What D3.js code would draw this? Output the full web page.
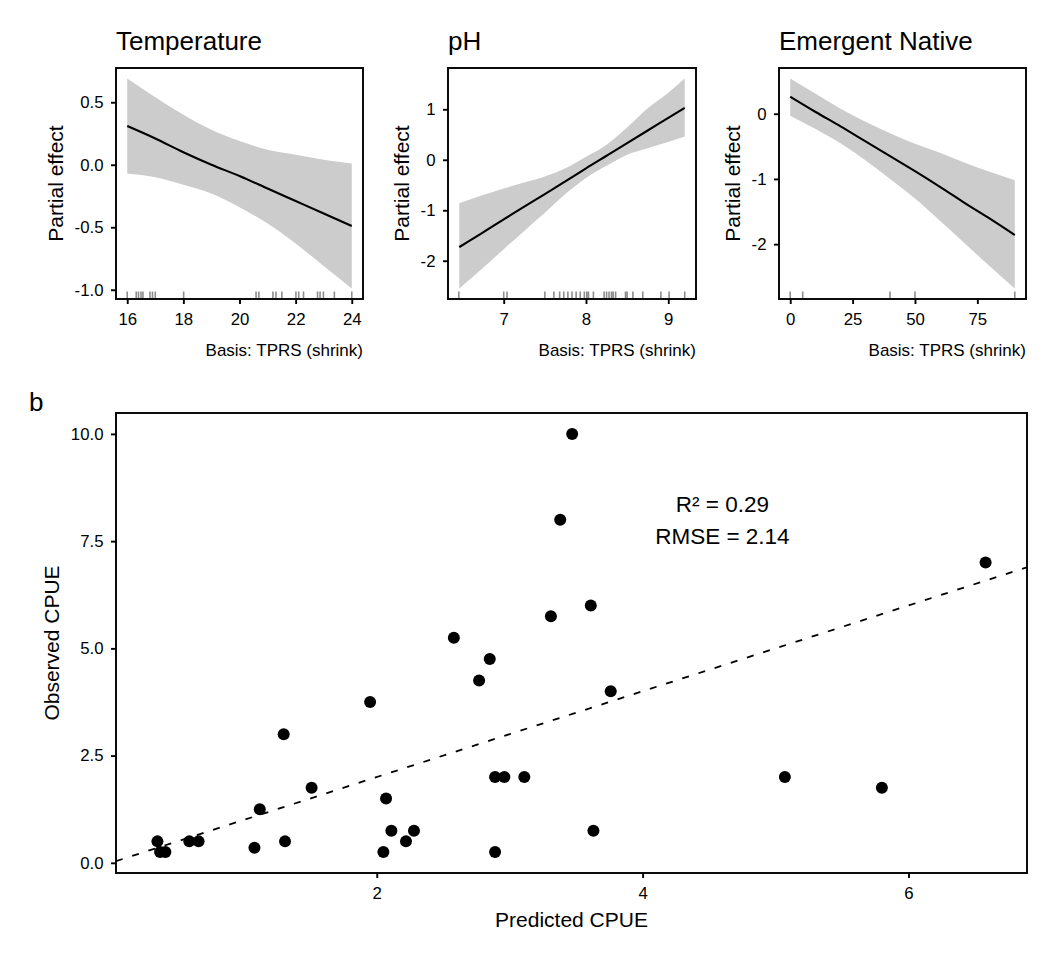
<!DOCTYPE html>
<html lang="en">
<head>
    <meta charset="UTF-8">
    <title>Partial effects and observed vs predicted CPUE</title>
    <script type="text/javascript" src="https://cdn.jsdelivr.net/npm/d3@7/dist/d3.min.js"></script>
    <style>
        body { margin: 0; background: #fff; }
    </style>
</head>
<body>
<script type="text/javascript">
    const width = 1056, height = 960;
    const FONT = '"Liberation Sans", Arial, Helvetica, sans-serif';

    // Temperature smooth
    const tempX = [16, 17, 18, 19, 20, 21, 22, 23, 24];
    const tempFit = [0.31, 0.21, 0.10, 0.00, -0.09, -0.19, -0.29, -0.39, -0.49];
    const tempUpper = [0.69, 0.54, 0.40, 0.28, 0.19, 0.12, 0.08, 0.04, 0.01];
    const tempLower = [-0.07, -0.10, -0.16, -0.23, -0.34, -0.47, -0.63, -0.81, -0.99];
    const tempRug = [16.0, 16.32, 16.40, 16.49, 16.56, 16.81, 16.90, 17.0, 18.01, 20.59, 20.69,
        21.19, 21.30, 21.51, 22.01, 22.11, 22.28, 22.78, 22.87, 22.99, 23.38, 24.0];
    const tempXTicks = [16, 18, 20, 22, 24];
    const tempXLabels = ['16', '18', '20', '22', '24'];
    const tempYTicks = [-1.0, -0.5, 0.0, 0.5];
    const tempYLabels = ['-1.0', '-0.5', '0.0', '0.5'];

    // pH smooth
    const phX = [6.46, 6.75, 7.0, 7.25, 7.5, 7.75, 8.0, 8.25, 8.5, 8.75, 9.0, 9.2];
    const phFit = [-1.73, -1.44, -1.18, -0.93, -0.68, -0.43, -0.17, 0.08, 0.33, 0.58, 0.83, 1.03];
    const phUpper = [-0.86, -0.70, -0.57, -0.45, -0.33, -0.17, 0.06, 0.30, 0.64, 1.02, 1.33, 1.61];
    const phLower = [-2.55, -2.14, -1.77, -1.41, -1.05, -0.68, -0.36, -0.12, 0.10, 0.23, 0.35, 0.46];
    const phRug = [6.455, 7.0, 7.04, 7.50, 7.61, 7.68, 7.73, 7.78, 7.83, 7.88, 7.93, 7.98, 8.01, 8.03,
        8.09, 8.22, 8.25, 8.28, 8.31, 8.33, 8.36, 8.48, 8.50, 8.57, 8.69, 8.91, 9.01, 9.2];
    const phXTicks = [7, 8, 9];
    const phXLabels = ['7', '8', '9'];
    const phYTicks = [-2, -1, 0, 1];
    const phYLabels = ['-2', '-1', '0', '1'];

    // Emergent Native smooth
    const emX = [0, 10, 20, 30, 40, 50, 60, 70, 80, 90];
    const emFit = [0.26, 0.03, -0.19, -0.42, -0.65, -0.88, -1.12, -1.37, -1.61, -1.86];
    const emUpper = [0.54, 0.31, 0.08, -0.12, -0.30, -0.46, -0.60, -0.75, -0.89, -1.02];
    const emLower = [-0.03, -0.23, -0.45, -0.71, -1.00, -1.30, -1.64, -1.99, -2.34, -2.68];
    const emRug = [0, 5, 40, 50, 90];
    const emXTicks = [0, 25, 50, 75];
    const emXLabels = ['0', '25', '50', '75'];
    const emYTicks = [-2, -1, 0];
    const emYLabels = ['-2', '-1', '0'];

    // panel b: observed vs predicted
    const predicted = [0.35, 0.37, 0.41, 0.59, 0.66, 1.08, 1.12, 1.30, 1.31, 1.51, 1.95, 2.05, 2.07, 2.11, 2.22, 2.28,
        2.58, 2.77, 2.85, 2.89, 2.89, 2.96, 3.11, 3.31, 3.38, 3.47, 3.61, 3.63, 3.76, 5.07, 5.80, 6.58];
    const observed = [0.50, 0.25, 0.25, 0.50, 0.50, 0.35, 1.25, 3.00, 0.50, 1.75, 3.75, 0.25, 1.50, 0.75, 0.50, 0.75,
        5.25, 4.25, 4.75, 2.00, 0.25, 2.00, 2.00, 5.75, 8.00, 10.00, 6.00, 0.75, 4.00, 2.00, 1.75, 7.00];
    const cpueXTicks = [2, 4, 6];
    const cpueXLabels = ['2', '4', '6'];
    const cpueYTicks = [0, 2.5, 5, 7.5, 10];
    const cpueYLabels = ['0.0', '2.5', '5.0', '7.5', '10.0'];
    const statLines = ['R\u00B2 = 0.29', 'RMSE = 2.14'];
    const statPos = [4.6, 8.0];

    const tickSize = 16.8, captionSize = 17, axisTitleSize = 21, titleSize = 26, annoSize = 22.5;

    const svg = d3.select('body').append('svg')
        .attr('width', width)
        .attr('height', height)
        .style('font-family', FONT);

    svg.append('rect').attr('width', width).attr('height', height).attr('fill', '#fff');

    // expand a range by 5% each side like ggplot
    function expand(ext) {
        const d = (ext[1] - ext[0]) * 0.05;
        return [ext[0] - d, ext[1] + d];
    }

    function drawAxes(g, x, y, box, xTicks, xLabels, yTicks, yLabels, xTitle, yTitle) {
        const xAxis = d3.axisBottom(x)
            .tickValues(xTicks)
            .tickFormat((d, i) => xLabels[i])
            .tickSize(5)
            .tickPadding(9.5);
        const yAxis = d3.axisLeft(y)
            .tickValues(yTicks)
            .tickFormat((d, i) => yLabels[i])
            .tickSize(5)
            .tickPadding(7.5);

        const gx = g.append('g')
            .attr('transform', 'translate(0,' + box.bottom + ')')
            .call(xAxis);
        const gy = g.append('g')
            .attr('transform', 'translate(' + box.left + ',0)')
            .call(yAxis);

        [gx, gy].forEach(function (a) {
            a.select('.domain').remove();
            a.selectAll('line').attr('stroke', '#000').attr('stroke-width', 1.9);
            a.selectAll('text')
                .attr('fill', '#000')
                .style('font-family', FONT)
                .style('font-size', tickSize + 'px');
        });

        // axis title placed just left of the widest tick label
        let widest = 0;
        gy.selectAll('text').each(function () {
            widest = Math.max(widest, this.getComputedTextLength());
        });
        const titleX = box.left - 12.5 - widest - 11.5;
        g.append('text')
            .attr('transform', 'translate(' + titleX + ',' + (box.top + box.bottom) / 2 + ') rotate(-90)')
            .attr('text-anchor', 'middle')
            .style('font-size', axisTitleSize + 'px')
            .text(yTitle);

        if (xTitle) {
            g.append('text')
                .attr('x', (box.left + box.right) / 2)
                .attr('y', box.bottom + 54)
                .attr('text-anchor', 'middle')
                .style('font-size', axisTitleSize + 'px')
                .text(xTitle);
        }
    }

    function drawPartial(box, title, xs, fit, upper, lower, rug, xTicks, xLabels, yTicks, yLabels) {
        const g = svg.append('g');

        const x = d3.scaleLinear()
            .domain(expand(d3.extent(xs)))
            .range([box.left, box.right]);
        const y = d3.scaleLinear()
            .domain(expand(d3.extent(upper.concat(lower, fit))))
            .range([box.bottom, box.top]);

        const rows = xs.map((v, i) => ({x: v, fit: fit[i], hi: upper[i], lo: lower[i]}));

        // confidence band
        g.append('path')
            .datum(rows)
            .attr('fill', '#cccccc')
            .attr('d', d3.area()
                .curve(d3.curveMonotoneX)
                .x(d => x(d.x))
                .y0(d => y(d.lo))
                .y1(d => y(d.hi)));

        // fitted smooth
        g.append('path')
            .datum(rows)
            .attr('fill', 'none')
            .attr('stroke', '#000')
            .attr('stroke-width', 2.1)
            .attr('d', d3.line()
                .curve(d3.curveMonotoneX)
                .x(d => x(d.x))
                .y(d => y(d.fit)));

        // rug of observations
        g.append('g')
            .selectAll('line')
            .data(rug)
            .enter()
            .append('line')
            .attr('x1', d => x(d))
            .attr('x2', d => x(d))
            .attr('y1', box.bottom - 1)
            .attr('y2', box.bottom - 7.5)
            .attr('stroke', '#000')
            .attr('stroke-opacity', 0.45)
            .attr('stroke-width', 1.6);

        g.append('rect')
            .attr('x', box.left)
            .attr('y', box.top)
            .attr('width', box.right - box.left)
            .attr('height', box.bottom - box.top)
            .attr('fill', 'none')
            .attr('stroke', '#000')
            .attr('stroke-width', 1.9);

        drawAxes(g, x, y, box, xTicks, xLabels, yTicks, yLabels, null, 'Partial effect');

        g.append('text')
            .attr('x', box.left)
            .attr('y', 50)
            .style('font-size', titleSize + 'px')
            .text(title);

        g.append('text')
            .attr('x', box.right)
            .attr('y', box.bottom + 57)
            .attr('text-anchor', 'end')
            .style('font-size', captionSize + 'px')
            .text('Basis: TPRS (shrink)');
    }

    drawPartial({left: 116, right: 363, top: 68, bottom: 299}, 'Temperature',
        tempX, tempFit, tempUpper, tempLower, tempRug, tempXTicks, tempXLabels, tempYTicks, tempYLabels);
    drawPartial({left: 448, right: 696, top: 68, bottom: 299}, 'pH',
        phX, phFit, phUpper, phLower, phRug, phXTicks, phXLabels, phYTicks, phYLabels);
    drawPartial({left: 779, right: 1026, top: 68, bottom: 299}, 'Emergent Native',
        emX, emFit, emUpper, emLower, emRug, emXTicks, emXLabels, emYTicks, emYLabels);

    // ---- panel b ----
    const boxB = {left: 116, right: 1027, top: 413, bottom: 873};
    const gb = svg.append('g');

    const xb = d3.scaleLinear()
        .domain(expand(d3.extent(predicted)))
        .range([boxB.left, boxB.right]);
    const yb = d3.scaleLinear()
        .domain(expand(d3.extent(observed)))
        .range([boxB.bottom, boxB.top]);

    gb.append('clipPath')
        .attr('id', 'clipB')
        .append('rect')
        .attr('x', boxB.left)
        .attr('y', boxB.top)
        .attr('width', boxB.right - boxB.left)
        .attr('height', boxB.bottom - boxB.top);

    // 1:1 line
    const xd = xb.domain();
    gb.append('line')
        .attr('clip-path', 'url(#clipB)')
        .attr('x1', xb(xd[0]))
        .attr('y1', yb(xd[0]))
        .attr('x2', xb(xd[1]))
        .attr('y2', yb(xd[1]))
        .attr('stroke', '#000')
        .attr('stroke-width', 1.8)
        .attr('stroke-dasharray', '7,10');

    gb.append('g')
        .selectAll('circle')
        .data(predicted)
        .enter()
        .append('circle')
        .attr('cx', d => xb(d))
        .attr('cy', (d, i) => yb(observed[i]))
        .attr('r', 6)
        .attr('fill', '#000');

    gb.append('rect')
        .attr('x', boxB.left)
        .attr('y', boxB.top)
        .attr('width', boxB.right - boxB.left)
        .attr('height', boxB.bottom - boxB.top)
        .attr('fill', 'none')
        .attr('stroke', '#000')
        .attr('stroke-width', 1.9);

    drawAxes(gb, xb, yb, boxB, cpueXTicks, cpueXLabels, cpueYTicks, cpueYLabels, 'Predicted CPUE', 'Observed CPUE');

    // fit statistics
    const stat = gb.append('text')
        .attr('text-anchor', 'middle')
        .style('font-size', annoSize + 'px');
    stat.selectAll('tspan')
        .data(statLines)
        .enter()
        .append('tspan')
        .attr('x', xb(statPos[0]))
        .attr('y', (d, i) => yb(statPos[1]) - 8 + i * 32)
        .text(d => d);

    svg.append('text')
        .attr('x', 29)
        .attr('y', 411)
        .style('font-size', titleSize + 'px')
        .text('b');
</script>
</body>
</html>
